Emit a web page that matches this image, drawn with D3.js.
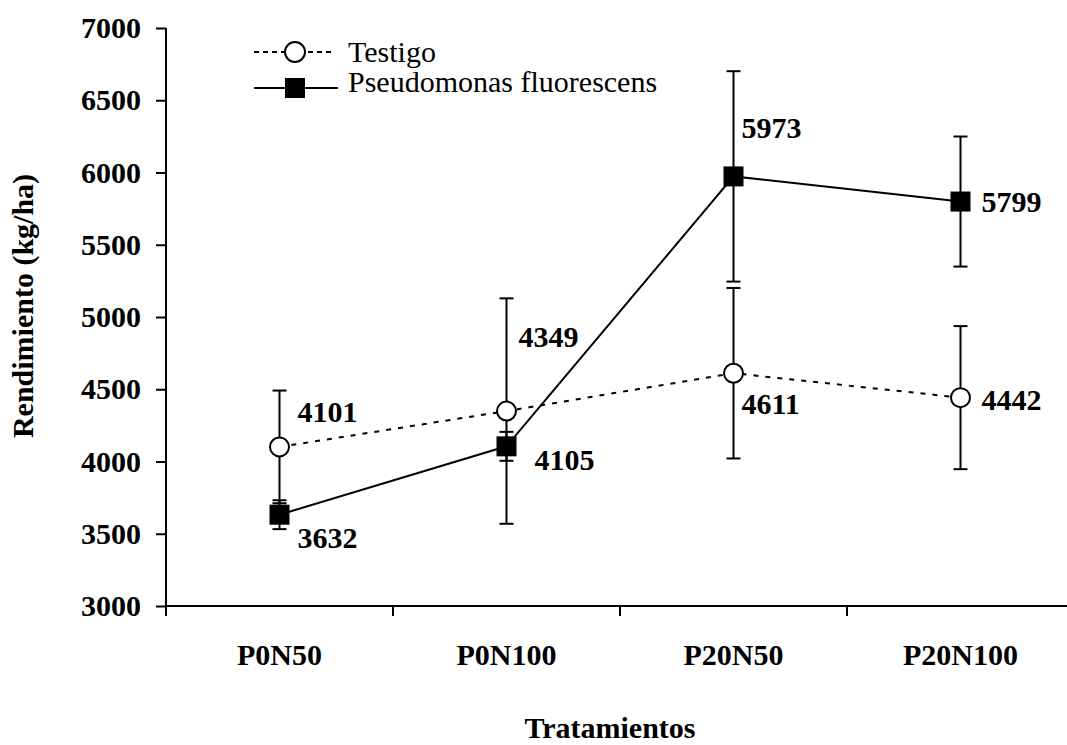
<!DOCTYPE html>
<html>
<head>
<meta charset="utf-8">
<script src="https://cdn.jsdelivr.net/npm/d3@7"></script>
<style>
  html, body { margin: 0; padding: 0; background: #fff; }
  svg { display: block; }
  text { font-family: "Liberation Serif", "Times New Roman", serif; fill: #000; }
</style>
</head>
<body>
<svg id="chart" width="1067" height="745"></svg>
<script>
// Treatments and yield values (kg/ha)
const categories = ["P0N50", "P0N100", "P20N50", "P20N100"];
const testigo = [4101, 4349, 4611, 4442];
const testigoErr = [390, 780, 590, 495];
const pseudomonas = [3632, 4105, 5973, 5799];
const pseudomonasErr = [100, 100, 728, 450];
const yTicks = [3000, 3500, 4000, 4500, 5000, 5500, 6000, 6500, 7000];
const seriesNames = ["Testigo", "Pseudomonas fluorescens"];

// Value label placement relative to each marker (dx, dy to baseline)
const testigoLabelOffset = [[18, -25], [12, -64], [8, 41], [21, 12]];
const pseudoLabelOffset = [[18, 33], [28, 24], [8, -38], [21, 10]];

const svg = d3.select("#chart");
const plotLeft = 166, plotRight = 1074, plotTop = 28, plotBottom = 606;

const x = d3.scaleBand().domain(categories).range([plotLeft, plotRight]).padding(0);
const cx = c => x(c) + x.bandwidth() / 2;
const y = d3.scaleLinear().domain([3000, 7000]).range([plotBottom, plotTop]);

// Y axis
const yAxis = svg.append("g")
  .attr("transform", `translate(${plotLeft},0)`)
  .call(d3.axisLeft(y).tickValues(yTicks).tickSize(10).tickPadding(15).tickFormat(d3.format("d")));
yAxis.select(".domain").attr("stroke", "#000").attr("stroke-width", 2).attr("d", `M0,${plotTop}V${plotBottom}`);
yAxis.selectAll(".tick line").attr("stroke", "#000").attr("stroke-width", 2);
yAxis.selectAll(".tick text")
  .style("font-family", '"Liberation Serif", serif')
  .style("font-size", "30px").style("font-weight", "bold").attr("fill", "#000");

// X axis: baseline with ticks at band boundaries, labels at band centers
const xg = svg.append("g");
xg.append("line")
  .attr("x1", plotLeft).attr("x2", plotRight).attr("y1", plotBottom).attr("y2", plotBottom)
  .attr("stroke", "#000").attr("stroke-width", 2);
xg.selectAll("line.xtick").data(categories).join("line")
  .attr("class", "xtick")
  .attr("x1", d => x(d)).attr("x2", d => x(d))
  .attr("y1", plotBottom).attr("y2", plotBottom + 10)
  .attr("stroke", "#000").attr("stroke-width", 2);
xg.selectAll("text.xlab").data(categories).join("text")
  .attr("class", "xlab")
  .attr("x", d => cx(d)).attr("y", 665)
  .attr("text-anchor", "middle")
  .style("font-size", "30px").style("font-weight", "bold")
  .text(d => d);

// Axis titles
svg.append("text")
  .attr("transform", "translate(33,306) rotate(-90)")
  .attr("text-anchor", "middle")
  .style("font-size", "30px").style("font-weight", "bold")
  .text("Rendimiento (kg/ha)");
svg.append("text")
  .attr("x", 610).attr("y", 738)
  .attr("text-anchor", "middle")
  .style("font-size", "30px").style("font-weight", "bold")
  .text("Tratamientos");

// Error bars
function errorBars(values, errs) {
  const g = svg.append("g").attr("stroke", "#000").attr("stroke-width", 2);
  categories.forEach((c, i) => {
    const xc = cx(c), hi = y(values[i] + errs[i]), lo = y(values[i] - errs[i]);
    g.append("line").attr("x1", xc).attr("x2", xc).attr("y1", hi).attr("y2", lo);
    g.append("line").attr("x1", xc - 7).attr("x2", xc + 7).attr("y1", hi).attr("y2", hi);
    g.append("line").attr("x1", xc - 7).attr("x2", xc + 7).attr("y1", lo).attr("y2", lo);
  });
}
errorBars(testigo, testigoErr);
errorBars(pseudomonas, pseudomonasErr);

// Connecting lines
const line = d3.line().x((d, i) => cx(categories[i])).y(d => y(d));
svg.append("path").datum(testigo)
  .attr("d", line).attr("fill", "none")
  .attr("stroke", "#000").attr("stroke-width", 2).attr("stroke-dasharray", "5,7");
svg.append("path").datum(pseudomonas)
  .attr("d", line).attr("fill", "none")
  .attr("stroke", "#000").attr("stroke-width", 2);

// Markers
svg.append("g").selectAll("circle").data(testigo).join("circle")
  .attr("cx", (d, i) => cx(categories[i])).attr("cy", d => y(d)).attr("r", 9.5)
  .attr("fill", "#fff").attr("stroke", "#000").attr("stroke-width", 2);
svg.append("g").selectAll("rect").data(pseudomonas).join("rect")
  .attr("x", (d, i) => cx(categories[i]) - 10).attr("y", d => y(d) - 10)
  .attr("width", 20).attr("height", 20).attr("fill", "#000");

// Value labels
function valueLabels(values, offsets) {
  svg.append("g").selectAll("text").data(values).join("text")
    .attr("x", (d, i) => cx(categories[i]) + offsets[i][0])
    .attr("y", (d, i) => y(d) + offsets[i][1])
    .style("font-size", "30px").style("font-weight", "bold")
    .text(d => d);
}
valueLabels(testigo, testigoLabelOffset);
valueLabels(pseudomonas, pseudoLabelOffset);

// Legend
const lg = svg.append("g");
lg.append("line").attr("x1", 254).attr("x2", 332).attr("y1", 52).attr("y2", 52)
  .attr("stroke", "#000").attr("stroke-width", 2).attr("stroke-dasharray", "5,4");
lg.append("circle").attr("cx", 295).attr("cy", 52).attr("r", 10)
  .attr("fill", "#fff").attr("stroke", "#000").attr("stroke-width", 2);
lg.append("text").attr("x", 348).attr("y", 62).style("font-size", "30px").text(seriesNames[0]);
lg.append("line").attr("x1", 254).attr("x2", 338).attr("y1", 88).attr("y2", 88)
  .attr("stroke", "#000").attr("stroke-width", 2);
lg.append("rect").attr("x", 285).attr("y", 78).attr("width", 20).attr("height", 20).attr("fill", "#000");
lg.append("text").attr("x", 348).attr("y", 92).style("font-size", "30px").text(seriesNames[1]);
</script>
</body>
</html>
